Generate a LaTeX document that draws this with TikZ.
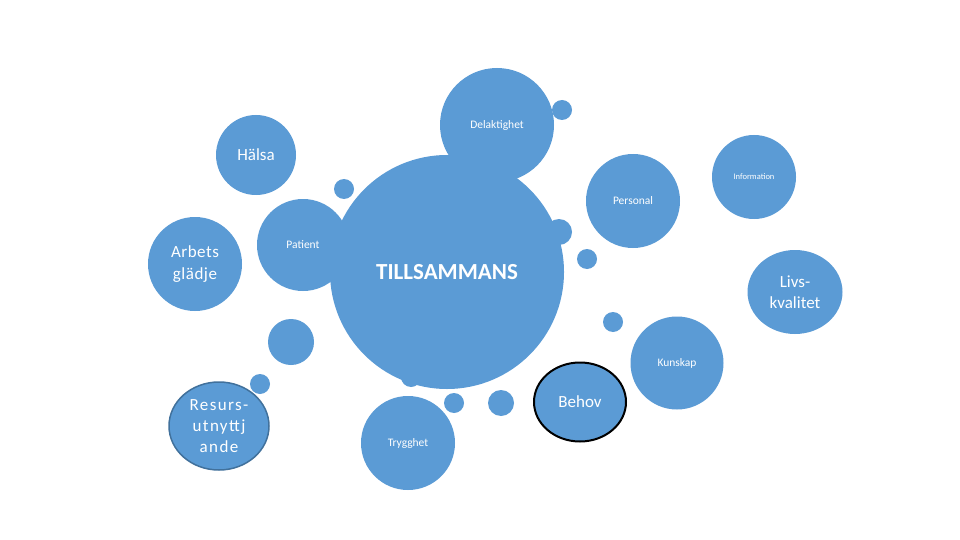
\documentclass[tikz,border=0pt]{standalone}
\usepackage{fontspec}
\setmainfont{Carlito}
\usetikzlibrary{shapes.geometric}
\definecolor{bub}{HTML}{5B9BD5}
\definecolor{rim}{HTML}{41719C}
\begin{document}
\begin{tikzpicture}[x=1pt,y=-1pt,
  bubble/.style={circle, fill=bub, inner sep=0pt, text=white, align=center},
  oval/.style={ellipse, fill=bub, inner sep=0pt, text=white, align=center},
  dot/.style={circle, fill=bub, inner sep=0pt},
  small/.style={font=\fontsize{11.5}{13}\selectfont},
  tiny/.style={font=\fontsize{8.5}{10}\selectfont},
  big/.style={font=\fontsize{17}{21}\selectfont},
  spaced/.style={font=\fontsize{17}{21}\selectfont\addfontfeature{LetterSpace=8}},
  lspaced/.style={font=\fontsize{17}{22}\selectfont\addfontfeature{LetterSpace=3}}]
\useasboundingbox (0,0) rectangle (960,540);
\fill[white] (0,0) rectangle (960,540);
% small dots
\node[dot, minimum size=20pt] (d1) at (562,110) {};
\node[dot, minimum size=20pt] (d2) at (344,189) {};
\node[dot, minimum size=26pt] (d3) at (559,232) {};
\node[dot, minimum size=20pt] (d4) at (587,259) {};
\node[dot, minimum size=20pt] (d5) at (613,322) {};
\node[dot, minimum size=46pt] (d6) at (291,342) {};
\node[dot, minimum size=20pt] (d7) at (260,384) {};
\node[dot, minimum size=20pt] (d8) at (411,377) {};
\node[dot, minimum size=20pt] (d9) at (454,403) {};
\node[dot, minimum size=26pt] (d10) at (501,403) {};
% bubbles
\node[bubble, small, minimum size=114pt] (del) at (497,125) {Delaktighet};
\node[bubble, big, minimum size=80pt] (hal) at (256,155) {Hälsa};
\node[bubble, small, minimum size=92pt] (pat) at (303,245) {Patient};
\node[bubble, minimum size=234pt, font=\fontsize{23}{26}\selectfont\bfseries] (main) at (447,272) {TILLSAMMANS};
\node[bubble, lspaced, minimum size=94pt] (arb) at (195,264) {Arbets\\glädje};
\node[bubble, small, minimum size=94pt] (per) at (633,201) {Personal};
\node[bubble, tiny, minimum size=84pt] (inf) at (754,177) {Information};
\node[oval, big, minimum width=95pt, minimum height=84pt] (liv) at (795,292) {Livs-\\kvalitet};
\node[bubble, small, minimum size=93pt] (kun) at (677,363) {Kunskap};
\node[oval, big, draw=black, line width=2pt, minimum width=92pt, minimum height=79pt] (beh) at (580,402) {Behov};
\node[bubble, small, minimum size=94pt] (try) at (408,443) {Trygghet};
\node[oval, spaced, draw=rim, line width=1.5pt, minimum width=100pt, minimum height=88pt] (res) at (219,426) {Resurs-\\utnyttj\\ande};
\end{tikzpicture}
\end{document}
